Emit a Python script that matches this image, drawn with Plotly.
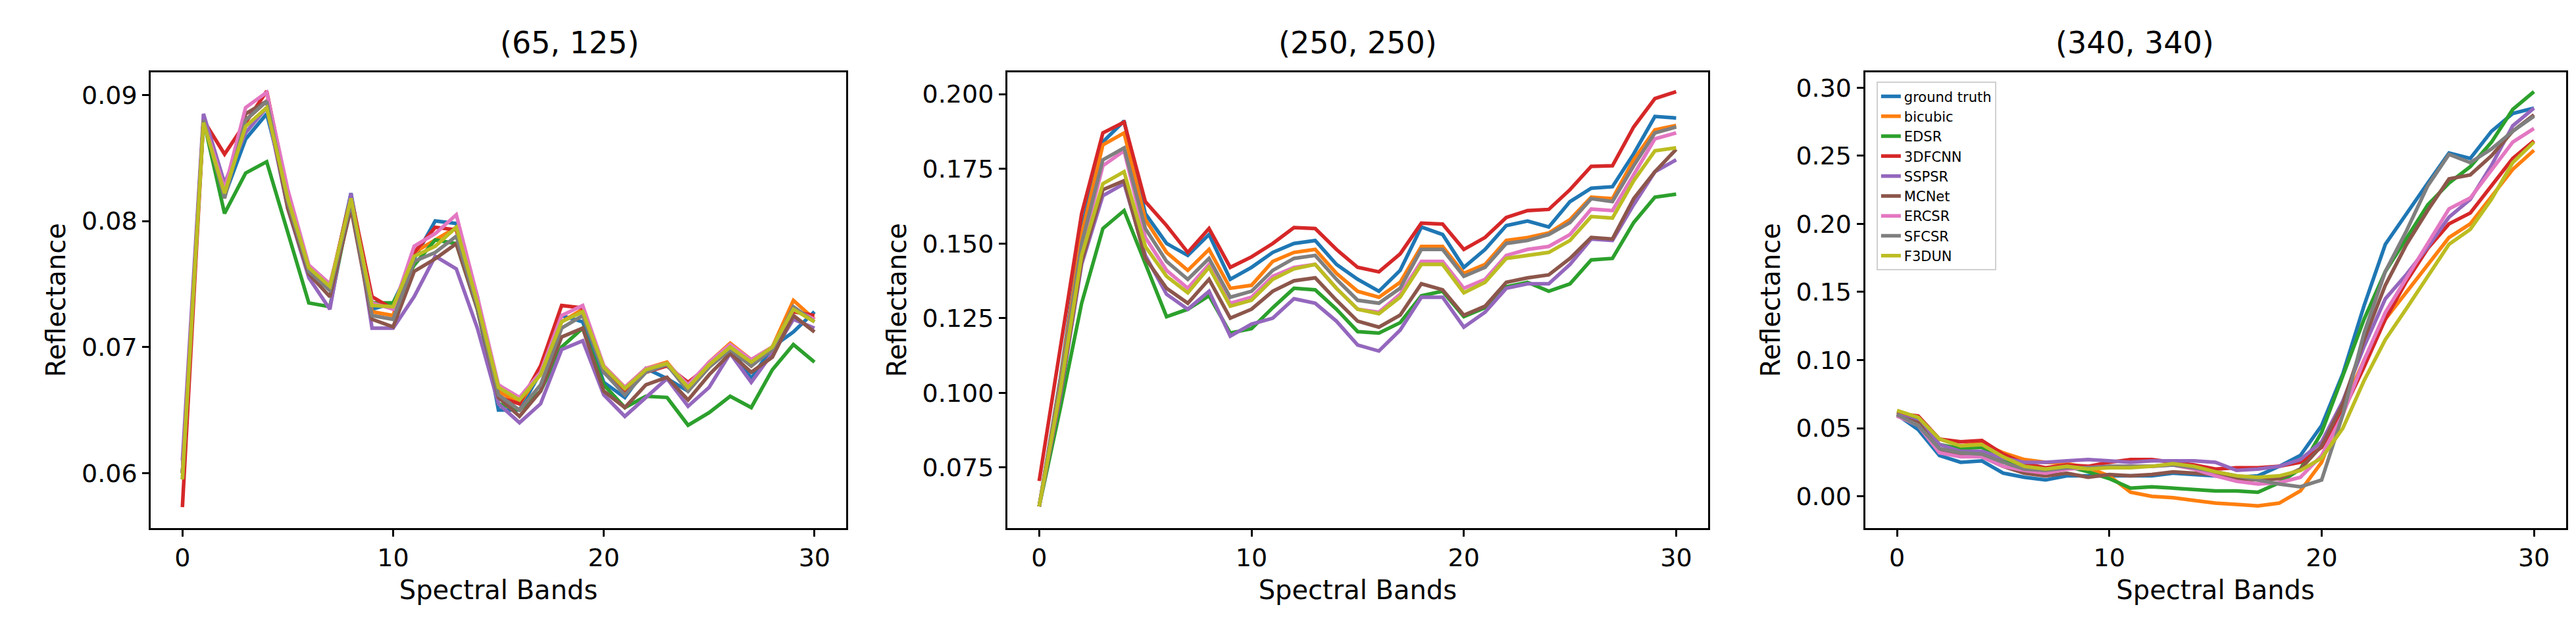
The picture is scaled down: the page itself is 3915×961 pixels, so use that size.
import plotly.graph_objects as go

bands = list(range(31))
names = ["ground truth", "bicubic", "EDSR", "3DFCNN", "SSPSR", "MCNet", "ERCSR", "SFCSR", "F3DUN"]
colors = ["#1f77b4", "#ff7f0e", "#2ca02c", "#d62728", "#9467bd", "#8c564b", "#e377c2", "#7f7f7f", "#bcbd22"]
titles = ["(65, 125)", "(250, 250)", "(340, 340)"]

p1_gt = [0.060, 0.088, 0.082, 0.0865, 0.0885, 0.082, 0.076, 0.0745, 0.0822, 0.0730, 0.0735, 0.0770, 0.0800, 0.0798, 0.0740, 0.0650, 0.0650, 0.0680, 0.0725, 0.0720, 0.0672, 0.0660, 0.0683, 0.0675, 0.0665, 0.0685, 0.0700, 0.0675, 0.0700, 0.0712, 0.0728]
p1_bicubic = [0.060, 0.088, 0.0825, 0.088, 0.0895, 0.082, 0.0762, 0.0748, 0.0818, 0.0728, 0.0725, 0.0775, 0.0785, 0.0795, 0.0735, 0.0665, 0.0655, 0.0680, 0.0720, 0.0730, 0.0685, 0.0668, 0.0683, 0.0688, 0.0668, 0.0688, 0.0703, 0.0690, 0.0700, 0.0737, 0.0722]
p1_edsr = [0.060, 0.088, 0.0806, 0.0838, 0.0847, 0.0790, 0.0735, 0.0732, 0.0815, 0.0735, 0.0735, 0.0765, 0.0785, 0.0782, 0.0730, 0.0655, 0.0650, 0.0665, 0.0700, 0.0715, 0.0670, 0.0652, 0.0661, 0.0660, 0.0638, 0.0648, 0.0661, 0.0652, 0.0682, 0.0702, 0.0688]
p1_3dfcnn = [0.0573, 0.0880, 0.0853, 0.0878, 0.0903, 0.0822, 0.0760, 0.0748, 0.0820, 0.0740, 0.0730, 0.0775, 0.0795, 0.0793, 0.0735, 0.0660, 0.0655, 0.0685, 0.0733, 0.0731, 0.0680, 0.0665, 0.0680, 0.0685, 0.0672, 0.0685, 0.0700, 0.0685, 0.0700, 0.0728, 0.0725]
p1_sspsr = [0.061, 0.0885, 0.0830, 0.0870, 0.0890, 0.0810, 0.0755, 0.0730, 0.0822, 0.0715, 0.0715, 0.0740, 0.0772, 0.0762, 0.0715, 0.0655, 0.0640, 0.0655, 0.0698, 0.0705, 0.0662, 0.0645, 0.0660, 0.0675, 0.0653, 0.0668, 0.0695, 0.0672, 0.0695, 0.0722, 0.0715]
p1_mcnet = [0.060, 0.088, 0.0820, 0.0885, 0.0895, 0.0810, 0.0758, 0.0740, 0.0810, 0.0722, 0.0716, 0.0760, 0.0770, 0.0782, 0.0730, 0.0660, 0.0645, 0.0665, 0.0708, 0.0715, 0.0665, 0.0652, 0.0670, 0.0676, 0.0658, 0.0678, 0.0695, 0.0680, 0.0692, 0.0725, 0.0712]
p1_ercsr = [0.060, 0.088, 0.0825, 0.0890, 0.0902, 0.0825, 0.0765, 0.0750, 0.0815, 0.0735, 0.0730, 0.0780, 0.0790, 0.0805, 0.0740, 0.0670, 0.0660, 0.0680, 0.0725, 0.0733, 0.0685, 0.0668, 0.0683, 0.0687, 0.0670, 0.0688, 0.0702, 0.0690, 0.0700, 0.0730, 0.0722]
p1_sfcsr = [0.0595, 0.088, 0.0818, 0.0880, 0.0895, 0.0815, 0.0760, 0.0745, 0.0815, 0.0725, 0.0722, 0.0768, 0.0775, 0.0788, 0.0732, 0.0662, 0.0650, 0.0670, 0.0715, 0.0725, 0.0680, 0.0662, 0.0680, 0.0686, 0.0665, 0.0684, 0.0698, 0.0685, 0.0698, 0.0732, 0.0720]
p1_f3dun = [0.0595, 0.0878, 0.0822, 0.0875, 0.0890, 0.0818, 0.0763, 0.0748, 0.0818, 0.0733, 0.0732, 0.0772, 0.0780, 0.0795, 0.0735, 0.0668, 0.0658, 0.0678, 0.0720, 0.0728, 0.0684, 0.0667, 0.0682, 0.0687, 0.0668, 0.0686, 0.0700, 0.0688, 0.0700, 0.0730, 0.0720]

p2_gt = [0.062, 0.105, 0.155, 0.184, 0.191, 0.160, 0.150, 0.146, 0.153, 0.138, 0.142, 0.147, 0.150, 0.151, 0.143, 0.138, 0.134, 0.141, 0.1555, 0.153, 0.142, 0.148, 0.156, 0.1575, 0.1555, 0.164, 0.1685, 0.169, 0.180, 0.1925, 0.192]
p2_bicubic = [0.062, 0.104, 0.153, 0.183, 0.187, 0.158, 0.147, 0.141, 0.148, 0.135, 0.136, 0.144, 0.147, 0.148, 0.140, 0.134, 0.132, 0.137, 0.149, 0.149, 0.140, 0.143, 0.151, 0.152, 0.1535, 0.158, 0.1655, 0.165, 0.178, 0.188, 0.1895]
p2_edsr = [0.062, 0.095, 0.130, 0.155, 0.161, 0.143, 0.1255, 0.128, 0.1325, 0.120, 0.1215, 0.1285, 0.135, 0.1345, 0.128, 0.1205, 0.120, 0.1235, 0.1325, 0.134, 0.1255, 0.1285, 0.1355, 0.137, 0.134, 0.1365, 0.1445, 0.145, 0.157, 0.1655, 0.1665]
p2_3dfcnn = [0.0705, 0.115, 0.160, 0.187, 0.1906, 0.164, 0.156, 0.147, 0.155, 0.142, 0.1455, 0.150, 0.1553, 0.155, 0.148, 0.142, 0.1405, 0.1465, 0.1568, 0.1565, 0.148, 0.152, 0.1587, 0.161, 0.1614, 0.168, 0.1758, 0.176, 0.189, 0.1985, 0.2008]
p2_sspsr = [0.062, 0.099, 0.143, 0.166, 0.170, 0.146, 0.133, 0.128, 0.134, 0.119, 0.123, 0.125, 0.1315, 0.130, 0.124, 0.116, 0.114, 0.121, 0.132, 0.132, 0.122, 0.127, 0.135, 0.1365, 0.1365, 0.143, 0.1515, 0.151, 0.163, 0.174, 0.178]
p2_mcnet = [0.062, 0.100, 0.144, 0.168, 0.171, 0.145, 0.135, 0.130, 0.138, 0.125, 0.128, 0.134, 0.1375, 0.1385, 0.131, 0.124, 0.122, 0.126, 0.1365, 0.1345, 0.126, 0.129, 0.137, 0.1385, 0.1395, 0.145, 0.152, 0.1515, 0.165, 0.174, 0.1815]
p2_ercsr = [0.062, 0.102, 0.148, 0.176, 0.181, 0.152, 0.141, 0.135, 0.143, 0.130, 0.132, 0.139, 0.142, 0.143, 0.135, 0.128, 0.127, 0.133, 0.144, 0.144, 0.135, 0.138, 0.146, 0.148, 0.149, 0.153, 0.1615, 0.161, 0.173, 0.185, 0.187]
p2_sfcsr = [0.062, 0.103, 0.150, 0.178, 0.182, 0.155, 0.144, 0.138, 0.145, 0.132, 0.134, 0.141, 0.145, 0.146, 0.138, 0.131, 0.130, 0.135, 0.148, 0.148, 0.139, 0.142, 0.150, 0.151, 0.153, 0.157, 0.165, 0.164, 0.176, 0.187, 0.189]
p2_f3dun = [0.062, 0.101, 0.146, 0.170, 0.174, 0.149, 0.139, 0.1335, 0.142, 0.129, 0.131, 0.138, 0.1415, 0.143, 0.135, 0.128, 0.1265, 0.132, 0.143, 0.143, 0.1335, 0.137, 0.145, 0.146, 0.147, 0.151, 0.159, 0.1585, 0.171, 0.181, 0.182]

p3_gt = [0.060, 0.049, 0.030, 0.025, 0.026, 0.017, 0.014, 0.012, 0.015, 0.015, 0.015, 0.015, 0.015, 0.017, 0.016, 0.015, 0.014, 0.015, 0.022, 0.030, 0.052, 0.090, 0.140, 0.185, 0.208, 0.230, 0.252, 0.248, 0.268, 0.281, 0.285]
p3_bicubic = [0.061, 0.057, 0.042, 0.037, 0.039, 0.032, 0.027, 0.025, 0.024, 0.021, 0.015, 0.003, 0.000, -0.001, -0.003, -0.005, -0.006, -0.007, -0.005, 0.004, 0.025, 0.065, 0.100, 0.130, 0.150, 0.170, 0.190, 0.200, 0.220, 0.240, 0.254]
p3_edsr = [0.062, 0.057, 0.038, 0.035, 0.036, 0.027, 0.021, 0.019, 0.022, 0.018, 0.013, 0.006, 0.007, 0.006, 0.005, 0.004, 0.004, 0.003, 0.010, 0.020, 0.047, 0.088, 0.130, 0.165, 0.190, 0.214, 0.230, 0.242, 0.260, 0.284, 0.297]
p3_3dfcnn = [0.061, 0.059, 0.042, 0.040, 0.041, 0.031, 0.024, 0.021, 0.023, 0.022, 0.025, 0.027, 0.027, 0.025, 0.023, 0.020, 0.021, 0.021, 0.022, 0.025, 0.036, 0.062, 0.095, 0.130, 0.158, 0.182, 0.200, 0.208, 0.228, 0.248, 0.261]
p3_sspsr = [0.060, 0.055, 0.038, 0.033, 0.033, 0.028, 0.025, 0.025, 0.026, 0.027, 0.026, 0.025, 0.026, 0.026, 0.026, 0.025, 0.019, 0.020, 0.022, 0.027, 0.040, 0.070, 0.110, 0.145, 0.163, 0.183, 0.205, 0.218, 0.243, 0.272, 0.285]
p3_mcnet = [0.059, 0.054, 0.034, 0.030, 0.029, 0.022, 0.017, 0.015, 0.017, 0.014, 0.016, 0.015, 0.016, 0.018, 0.017, 0.016, 0.013, 0.012, 0.013, 0.020, 0.037, 0.068, 0.115, 0.155, 0.185, 0.210, 0.233, 0.236, 0.250, 0.268, 0.280]
p3_ercsr = [0.059, 0.052, 0.032, 0.029, 0.029, 0.022, 0.019, 0.017, 0.020, 0.021, 0.022, 0.022, 0.022, 0.023, 0.020, 0.015, 0.011, 0.009, 0.010, 0.014, 0.030, 0.060, 0.100, 0.135, 0.160, 0.185, 0.211, 0.219, 0.240, 0.260, 0.270]
p3_sfcsr = [0.060, 0.052, 0.035, 0.032, 0.031, 0.025, 0.020, 0.019, 0.021, 0.021, 0.022, 0.022, 0.022, 0.023, 0.021, 0.018, 0.015, 0.012, 0.009, 0.007, 0.012, 0.060, 0.120, 0.165, 0.195, 0.228, 0.251, 0.245, 0.255, 0.268, 0.279]
p3_f3dun = [0.063, 0.058, 0.042, 0.037, 0.038, 0.029, 0.022, 0.020, 0.022, 0.020, 0.021, 0.021, 0.022, 0.024, 0.022, 0.018, 0.015, 0.014, 0.015, 0.019, 0.028, 0.050, 0.085, 0.115, 0.138, 0.162, 0.185, 0.196, 0.218, 0.245, 0.260]

panels = [
    [p1_gt, p1_bicubic, p1_edsr, p1_3dfcnn, p1_sspsr, p1_mcnet, p1_ercsr, p1_sfcsr, p1_f3dun],
    [p2_gt, p2_bicubic, p2_edsr, p2_3dfcnn, p2_sspsr, p2_mcnet, p2_ercsr, p2_sfcsr, p2_f3dun],
    [p3_gt, p3_bicubic, p3_edsr, p3_3dfcnn, p3_sspsr, p3_mcnet, p3_ercsr, p3_sfcsr, p3_f3dun],
]
y_ranges = [[0.05565, 0.0918], [0.0548, 0.2073], [-0.0232, 0.3113]]
y_ticks = [[0.06, 0.07, 0.08, 0.09], [0.075, 0.100, 0.125, 0.150, 0.175, 0.200], [0.0, 0.05, 0.10, 0.15, 0.20, 0.25, 0.30]]
y_fmt = [".2f", ".3f", ".2f"]
domains = [[0.0565, 0.3264], [0.389, 0.661], [0.722, 0.994]]

FONT = "DejaVu Sans"
fig = go.Figure()
for p in range(3):
    suffix = "" if p == 0 else str(p + 1)
    for s in range(9):
        fig.add_trace(go.Scatter(
            x=bands, y=panels[p][s], mode="lines", name=names[s],
            line=dict(color=colors[s], width=5.5),
            xaxis="x" + suffix, yaxis="y" + suffix,
            showlegend=(p == 2),
        ))
    ax = dict(showline=True, mirror=True, linecolor="black", linewidth=3,
              ticks="outside", ticklen=10, tickwidth=3, tickcolor="black",
              showgrid=False, zeroline=False, tickfont=dict(family=FONT, size=38, color="black"))
    fig.update_layout(**{
        "xaxis" + suffix: dict(ax, domain=domains[p], range=[-1.5, 31.5],
                               tickvals=[0, 10, 20, 30], anchor="y" + suffix,
                               title=dict(text="Spectral Bands", font=dict(family=FONT, size=40, color="black"), standoff=14)),
        "yaxis" + suffix: dict(ax, domain=[0.173, 0.894], range=y_ranges[p],
                               tickvals=y_ticks[p], tickformat=y_fmt[p], anchor="x" + suffix,
                               title=dict(text="Reflectance", font=dict(family=FONT, size=40, color="black"), standoff=12)),
    })
    fig.add_annotation(text=titles[p], xref="paper", yref="paper",
                       x=(domains[p][0] + domains[p][1]) / 2, y=0.91, yanchor="bottom",
                       showarrow=False, font=dict(family=FONT, size=46, color="black"))

fig.update_layout(
    width=3915, height=961, plot_bgcolor="white", paper_bgcolor="white",
    margin=dict(l=0, r=0, t=0, b=0),
    legend=dict(x=0.7264, y=0.879, xanchor="left", yanchor="top",
                bordercolor="#d0d0d0", borderwidth=2, bgcolor="rgba(255,255,255,0.8)",
                font=dict(family=FONT, size=21, color="black"), tracegroupgap=0),
)
fig.write_html("out.html")
